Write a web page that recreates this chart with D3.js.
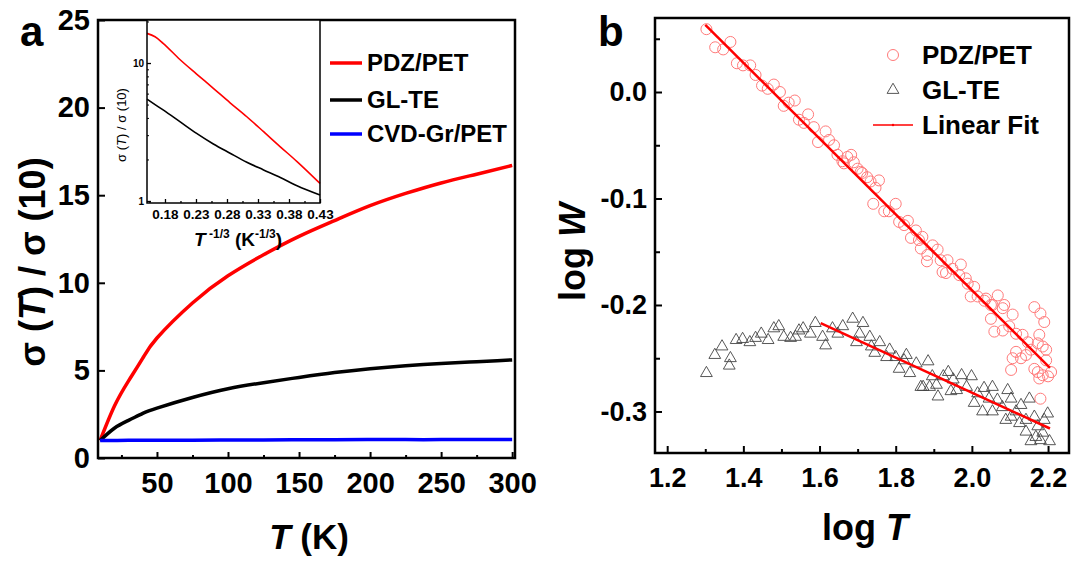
<!DOCTYPE html>
<html>
<head>
<meta charset="utf-8">
<script src="https://cdn.jsdelivr.net/npm/d3@7"></script>
<style>
  body { margin: 0; background: #fff; }
  svg { display: block; }
</style>
</head>
<body>
<div id="chart"></div>
<script>
// ---- data ----
// panel a: normalised conductivity vs temperature
const curveT = [10, 20, 30, 40, 50, 75, 100, 125, 150, 175, 200, 225, 250, 275, 300];
const pdzRatio = [1, 2.95, 4.4, 5.7, 6.85, 8.85, 10.4, 11.6, 12.65, 13.55, 14.4, 15.1, 15.7, 16.2, 16.7];
const glRatio = [1, 1.7, 2.15, 2.55, 2.85, 3.45, 3.95, 4.3, 4.6, 4.88, 5.1, 5.27, 5.4, 5.5, 5.6];
const cvdRatio = [1, 1.0, 1.01, 1.01, 1.02, 1.02, 1.03, 1.03, 1.04, 1.04, 1.05, 1.05, 1.05, 1.06, 1.06];

// inset: same ratio vs T^-1/3 on log axis
const insetU = [0.151, 0.164, 0.177, 0.204, 0.231, 0.258, 0.285, 0.312, 0.339, 0.366, 0.393, 0.43];
const insetPdz = [16.4, 15.5, 13.9, 10.6, 8.32, 6.56, 5.15, 4.08, 3.18, 2.47, 1.93, 1.34];
const insetGl = [5.48, 5.0, 4.57, 3.76, 3.09, 2.59, 2.22, 1.91, 1.68, 1.48, 1.29, 1.105];

const insetTicks = [0.18, 0.23, 0.28, 0.33, 0.38, 0.43];
const insetMinor = [0.155, 0.205, 0.255, 0.305, 0.355, 0.405];

// panel b: log W vs log T scatter
const pdzLogT = [1.303, 1.326, 1.347, 1.366, 1.383, 1.399, 1.418, 1.432, 1.449, 1.464, 1.480, 1.496, 1.506, 1.519, 1.535,
  1.546, 1.559, 1.570, 1.585, 1.596, 1.616, 1.625, 1.638, 1.647, 1.660, 1.664, 1.673, 1.683, 1.690, 1.700, 1.708, 1.712,
  1.725, 1.734, 1.741, 1.747, 1.756, 1.770, 1.782, 1.800, 1.809, 1.822, 1.832, 1.840, 1.853, 1.861, 1.866, 1.870, 1.882,
  1.883, 1.897, 1.910, 1.918, 1.923, 1.932, 1.936, 1.949, 1.967, 1.971, 1.984, 1.989, 1.997, 2.006, 2.015, 2.033, 2.037,
  2.050, 2.050, 2.054, 2.059, 2.068, 2.081, 2.081, 2.085, 2.098, 2.103, 2.107, 2.107, 2.116, 2.116, 2.129, 2.133, 2.142,
  2.147, 2.155, 2.164, 2.164, 2.173, 2.173, 2.177, 2.177, 2.180, 2.180, 2.186, 2.186, 2.190, 2.195, 2.195, 2.200, 2.208];
const pdzLogW = [0.059, 0.042, 0.040, 0.047, 0.027, 0.025, 0.025, 0.016, 0.006, 0.003, 0.007, 0.000, -0.013, -0.010, -0.008,
  -0.026, -0.029, -0.021, -0.033, -0.047, -0.037, -0.045, -0.050, -0.059, -0.065, -0.067, -0.061, -0.059, -0.066, -0.072, -0.075, -0.076,
  -0.080, -0.084, -0.105, -0.090, -0.083, -0.112, -0.112, -0.105, -0.122, -0.125, -0.121, -0.137, -0.130, -0.139, -0.147, -0.136, -0.159,
  -0.153, -0.144, -0.148, -0.158, -0.169, -0.170, -0.158, -0.166, -0.172, -0.162, -0.175, -0.180, -0.192, -0.183, -0.192, -0.196, -0.194,
  -0.200, -0.213, -0.200, -0.225, -0.191, -0.203, -0.224, -0.200, -0.220, -0.261, -0.209, -0.250, -0.227, -0.244, -0.250, -0.228, -0.247,
  -0.235, -0.242, -0.202, -0.260, -0.236, -0.263, -0.228, -0.269, -0.208, -0.288, -0.239, -0.266, -0.216, -0.242, -0.252, -0.267, -0.263];

const glLogT = [1.303, 1.325, 1.344, 1.363, 1.366, 1.381, 1.398, 1.417, 1.432, 1.447, 1.465, 1.480, 1.493, 1.506, 1.524,
  1.537, 1.546, 1.557, 1.576, 1.589, 1.608, 1.616, 1.634, 1.648, 1.661, 1.687, 1.697, 1.705, 1.714, 1.732, 1.736, 1.745,
  1.758, 1.776, 1.784, 1.800, 1.809, 1.822, 1.828, 1.837, 1.854, 1.866, 1.872, 1.885, 1.889, 1.896, 1.907, 1.911, 1.925,
  1.938, 1.945, 1.951, 1.960, 1.973, 1.986, 1.999, 2.006, 2.015, 2.028, 2.032, 2.045, 2.054, 2.054, 2.067, 2.080, 2.089,
  2.094, 2.103, 2.103, 2.116, 2.125, 2.129, 2.142, 2.142, 2.151, 2.155, 2.164, 2.168, 2.173, 2.180, 2.186, 2.190, 2.199, 2.204];
const glLogW = [-0.264, -0.247, -0.239, -0.257, -0.250, -0.233, -0.232, -0.235, -0.231, -0.227, -0.233, -0.222, -0.220, -0.230, -0.231,
  -0.230, -0.224, -0.222, -0.227, -0.217, -0.230, -0.238, -0.222, -0.227, -0.220, -0.213, -0.235, -0.227, -0.217, -0.230, -0.239, -0.245,
  -0.235, -0.249, -0.242, -0.249, -0.260, -0.252, -0.247, -0.264, -0.255, -0.277, -0.277, -0.253, -0.277, -0.267, -0.275, -0.286, -0.267,
  -0.263, -0.281, -0.270, -0.280, -0.266, -0.277, -0.267, -0.292, -0.283, -0.300, -0.278, -0.288, -0.277, -0.300, -0.289, -0.296, -0.308,
  -0.280, -0.288, -0.305, -0.300, -0.311, -0.294, -0.308, -0.319, -0.288, -0.328, -0.305, -0.324, -0.314, -0.327, -0.320, -0.308, -0.302, -0.328];

// linear fits as drawn (end points)
const fitPdzT = [1.30, 2.205];
const fitPdzW = [0.063, -0.259];
const fitGlT = [1.603, 2.205];
const fitGlW = [-0.217, -0.316];

const legendA = ["PDZ/PET", "GL-TE", "CVD-Gr/PET"];
const colorsA = ["#ff0000", "#000000", "#0000ff"];

// ---- drawing ----
const W = 1073, H = 562;
const FONT = "'Liberation Sans', Arial, Helvetica, sans-serif";

const svg = d3.select("#chart").append("svg")
  .attr("width", W)
  .attr("height", H)
  .attr("viewBox", `0 0 ${W} ${H}`)
  .style("font-family", FONT);

function styleAxis(g, size, sw) {
  g.attr("font-family", FONT).attr("font-size", size).attr("font-weight", "bold");
  g.select(".domain").remove();
  g.selectAll(".tick line").attr("stroke", "#000").attr("stroke-width", sw);
  g.selectAll(".tick text").attr("fill", "#000");
}

// ======== panel a ========
const xa = d3.scaleLinear([8.5, 302], [98, 515]);
const ya = d3.scaleLinear([0, 25], [458, 20]);

svg.append("g")
  .attr("transform", `translate(0,${ya(0)})`)
  .call(d3.axisBottom(xa).tickValues([50, 100, 150, 200, 250, 300]).tickSize(-6).tickPadding(14))
  .call(g => styleAxis(g, 29, 2));
svg.append("g")
  .attr("transform", `translate(0,${ya(0)})`)
  .call(d3.axisBottom(xa).tickValues([25, 75, 125, 175, 225, 275]).tickSize(-3).tickFormat(""))
  .call(g => styleAxis(g, 29, 2));
svg.append("g")
  .attr("transform", `translate(${xa.range()[0]},0)`)
  .call(d3.axisLeft(ya).tickValues([0, 5, 10, 15, 20, 25]).tickSize(-7).tickPadding(8))
  .call(g => styleAxis(g, 29, 2));

const lineA = d3.line().x((d, i) => xa(curveT[i])).y(d => ya(d)).curve(d3.curveNatural);
[pdzRatio, glRatio, cvdRatio].forEach((s, k) => {
  svg.append("path")
    .attr("d", lineA(s))
    .attr("fill", "none")
    .attr("stroke", colorsA[k])
    .attr("stroke-width", 3.5);
});

svg.append("rect")
  .attr("x", 98).attr("y", 20).attr("width", 515 - 98).attr("height", 458 - 20)
  .attr("fill", "none").attr("stroke", "#000").attr("stroke-width", 2.5);

// legend a
legendA.forEach((name, i) => {
  const yy = [63, 100, 134][i];
  svg.append("line")
    .attr("x1", 330).attr("x2", 362).attr("y1", yy).attr("y2", yy)
    .attr("stroke", colorsA[i]).attr("stroke-width", 3.5);
  svg.append("text")
    .attr("x", 367).attr("y", yy + 8)
    .attr("font-size", 24).attr("font-weight", "bold")
    .text(name);
});

// axis titles a
svg.append("text")
  .attr("x", 20).attr("y", 46)
  .attr("font-size", 42).attr("font-weight", "bold")
  .text("a");

const yTitleA = svg.append("text")
  .attr("transform", "translate(45,262) rotate(-90)")
  .attr("text-anchor", "middle")
  .attr("font-size", 36).attr("font-weight", "bold");
yTitleA.append("tspan").text("σ (");
yTitleA.append("tspan").attr("font-style", "italic").text("T");
yTitleA.append("tspan").text(") / σ (10)");

const xTitleA = svg.append("text")
  .attr("x", 309).attr("y", 549)
  .attr("text-anchor", "middle")
  .attr("font-size", 35).attr("font-weight", "bold");
xTitleA.append("tspan").attr("font-style", "italic").text("T");
xTitleA.append("tspan").text(" (K)");

// ---- inset ----
const xi = d3.scaleLinear([0.151, 0.43], [147, 320]);
const yi = d3.scaleLog([0.967, 20.5], [203, 20]);

svg.append("rect")
  .attr("x", 147).attr("y", 20).attr("width", 320 - 147).attr("height", 203 - 20)
  .attr("fill", "#fff");

svg.append("g")
  .attr("transform", "translate(0,203)")
  .call(d3.axisBottom(xi).tickValues(insetTicks).tickSize(-4).tickPadding(6).tickFormat(d3.format(".2f")))
  .call(g => styleAxis(g, 13.5, 1.3));
svg.append("g")
  .attr("transform", "translate(0,203)")
  .call(d3.axisBottom(xi).tickValues(insetMinor).tickSize(-2).tickFormat(""))
  .call(g => styleAxis(g, 13, 1.3));
svg.append("g")
  .attr("transform", "translate(147,0)")
  .call(d3.axisLeft(yi).tickValues([1, 10]).tickSize(-4).tickPadding(3).tickFormat(d3.format("d")))
  .call(g => styleAxis(g, 10, 1.3));
svg.append("g")
  .attr("transform", "translate(147,0)")
  .call(d3.axisLeft(yi).tickValues([2, 3, 4, 5, 6, 7, 8, 9, 20]).tickSize(-2).tickFormat(""))
  .call(g => styleAxis(g, 10, 1));

const lineI = d3.line().x((d, i) => xi(insetU[i])).y(d => yi(d)).curve(d3.curveMonotoneX);
svg.append("path").attr("d", lineI(insetPdz))
  .attr("fill", "none").attr("stroke", "#ff0000").attr("stroke-width", 1.6);
svg.append("path").attr("d", lineI(insetGl))
  .attr("fill", "none").attr("stroke", "#000").attr("stroke-width", 1.6);

svg.append("rect")
  .attr("x", 147).attr("y", 20).attr("width", 320 - 147).attr("height", 203 - 20)
  .attr("fill", "none").attr("stroke", "#000").attr("stroke-width", 1.5);

const yTitleI = svg.append("text")
  .attr("transform", "translate(126,125) rotate(-90)")
  .attr("text-anchor", "middle")
  .attr("font-size", 13);
yTitleI.append("tspan").text("σ (");
yTitleI.append("tspan").attr("font-style", "italic").text("T");
yTitleI.append("tspan").text(") / σ (10)");

const xTitleI = svg.append("text")
  .attr("x", 238).attr("y", 246)
  .attr("text-anchor", "middle")
  .attr("font-weight", "bold")
  .attr("font-size", 19);
xTitleI.append("tspan").attr("font-style", "italic").text("T");
xTitleI.append("tspan").attr("font-size", 12).attr("dy", -8).text(" -1/3");
xTitleI.append("tspan").attr("dy", 8).text(" (K");
xTitleI.append("tspan").attr("font-size", 12).attr("dy", -8).text("-1/3");
xTitleI.append("tspan").attr("dy", 8).text(")");

// ======== panel b ========
const xb = d3.scaleLinear([1.168, 2.255], [655, 1069]);
const yb = d3.scaleLinear([-0.339, 0.0695], [453, 18]);
const fmt1 = d => (Math.abs(d) < 1e-9 ? 0 : d).toFixed(1);

svg.append("g")
  .attr("transform", "translate(0,453)")
  .call(d3.axisBottom(xb).tickValues([1.2, 1.4, 1.6, 1.8, 2.0, 2.2]).tickSize(-7).tickPadding(15).tickFormat(fmt1))
  .call(g => styleAxis(g, 27, 2));
svg.append("g")
  .attr("transform", "translate(0,453)")
  .call(d3.axisBottom(xb).tickValues([1.3, 1.5, 1.7, 1.9, 2.1]).tickSize(-4).tickFormat(""))
  .call(g => styleAxis(g, 27, 2));
svg.append("g")
  .attr("transform", "translate(655,0)")
  .call(d3.axisLeft(yb).tickValues([0.0, -0.1, -0.2, -0.3]).tickSize(-7).tickPadding(8).tickFormat(fmt1))
  .call(g => styleAxis(g, 27, 2));
svg.append("g")
  .attr("transform", "translate(655,0)")
  .call(d3.axisLeft(yb).tickValues([0.05, -0.05, -0.15, -0.25]).tickSize(-5).tickFormat(""))
  .call(g => styleAxis(g, 27, 2));

const tri = d3.symbol().type(d3.symbolTriangle).size(60);
svg.append("g").selectAll("path")
  .data(glLogT)
  .join("path")
  .attr("transform", (d, i) => `translate(${xb(d)},${yb(glLogW[i])})`)
  .attr("d", tri)
  .attr("fill", "none")
  .attr("stroke", "#444")
  .attr("stroke-width", 0.9);

svg.append("g").selectAll("circle")
  .data(pdzLogT)
  .join("circle")
  .attr("cx", d => xb(d))
  .attr("cy", (d, i) => yb(pdzLogW[i]))
  .attr("r", 5.5)
  .attr("fill", "none")
  .attr("stroke", "#ff7a7a")
  .attr("stroke-width", 1);

const lineB = d3.line().x(d => xb(d[0])).y(d => yb(d[1]));
svg.append("path").attr("d", lineB(d3.zip(fitPdzT, fitPdzW)))
  .attr("stroke", "#ff0000").attr("stroke-width", 2.5).attr("fill", "none");
svg.append("path").attr("d", lineB(d3.zip(fitGlT, fitGlW)))
  .attr("stroke", "#ff0000").attr("stroke-width", 2.5).attr("fill", "none");

svg.append("rect")
  .attr("x", 655).attr("y", 18).attr("width", 1069 - 655).attr("height", 453 - 18)
  .attr("fill", "none").attr("stroke", "#000").attr("stroke-width", 2.5);

// legend b
svg.append("circle").attr("cx", 893).attr("cy", 55).attr("r", 5.5)
  .attr("fill", "none").attr("stroke", "#ff7a7a").attr("stroke-width", 1);
svg.append("path").attr("transform", "translate(893,90)").attr("d", tri)
  .attr("fill", "none").attr("stroke", "#444").attr("stroke-width", 0.9);
svg.append("line").attr("x1", 873).attr("x2", 913).attr("y1", 125).attr("y2", 125)
  .attr("stroke", "#ff0000").attr("stroke-width", 1.5);
svg.append("circle").attr("cx", 893).attr("cy", 125).attr("r", 1.2).attr("fill", "#ff0000");
["PDZ/PET", "GL-TE", "Linear Fit"].forEach((name, i) => {
  svg.append("text")
    .attr("x", 922).attr("y", [55, 90, 125][i] + 9)
    .attr("font-size", 26).attr("font-weight", "bold")
    .text(name);
});

svg.append("text")
  .attr("x", 598).attr("y", 46)
  .attr("font-size", 42).attr("font-weight", "bold")
  .text("b");

const yTitleB = svg.append("text")
  .attr("transform", "translate(585,252) rotate(-90)")
  .attr("text-anchor", "middle")
  .attr("font-size", 36).attr("font-weight", "bold");
yTitleB.append("tspan").text("log ");
yTitleB.append("tspan").attr("font-style", "italic").text("W");

const xTitleB = svg.append("text")
  .attr("x", 865).attr("y", 540)
  .attr("text-anchor", "middle")
  .attr("font-size", 36).attr("font-weight", "bold");
xTitleB.append("tspan").text("log ");
xTitleB.append("tspan").attr("font-style", "italic").text("T");
</script>
</body>
</html>
